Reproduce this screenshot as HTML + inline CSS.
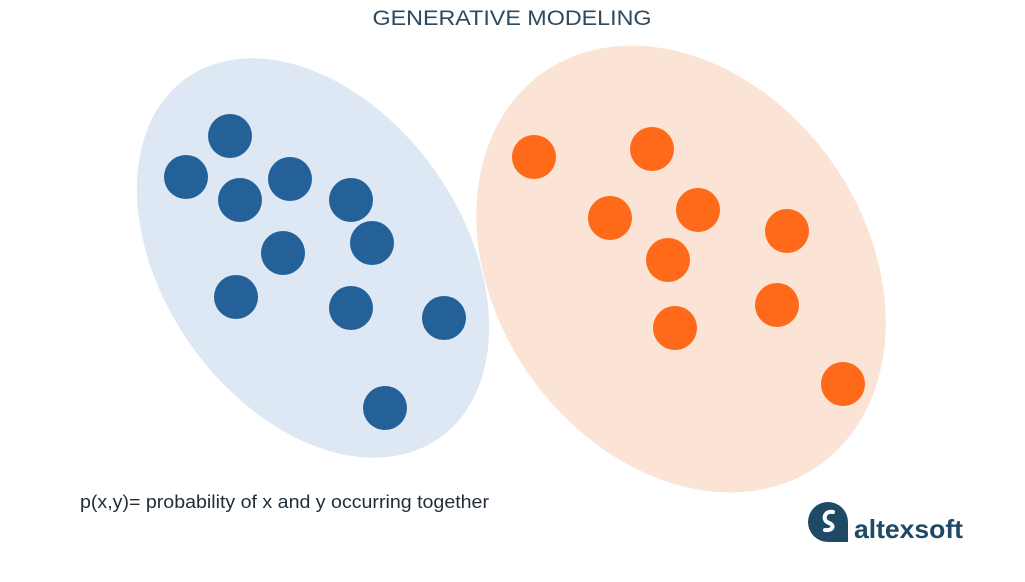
<!DOCTYPE html>
<html><head><style>
body{margin:0;background:#fff;width:1025px;height:577px;overflow:hidden;font-family:"Liberation Sans",sans-serif}
</style></head><body>
<svg width="1025" height="577" viewBox="0 0 1025 577">
<text x="512" y="25" text-anchor="middle" font-size="21" fill="#2d4a5e" font-family="Liberation Sans, sans-serif" textLength="279" lengthAdjust="spacingAndGlyphs">GENERATIVE MODELING</text>
<ellipse cx="313" cy="258" rx="150" ry="220" transform="rotate(-35 313 258)" fill="#dde8f4"/>
<ellipse cx="681" cy="269" rx="185" ry="240" transform="rotate(-35 681 269)" fill="#fbe3d5"/>
<g fill="#246199">
<circle cx="230" cy="136" r="22"/><circle cx="186" cy="177" r="22"/><circle cx="240" cy="200" r="22"/>
<circle cx="290" cy="179" r="22"/><circle cx="351" cy="200" r="22"/><circle cx="372" cy="243" r="22"/>
<circle cx="283" cy="253" r="22"/><circle cx="236" cy="297" r="22"/><circle cx="351" cy="308" r="22"/>
<circle cx="444" cy="318" r="22"/><circle cx="385" cy="408" r="22"/>
</g>
<g fill="#ff6a1a">
<circle cx="534" cy="157" r="22"/><circle cx="652" cy="149" r="22"/><circle cx="610" cy="218" r="22"/>
<circle cx="698" cy="210" r="22"/><circle cx="787" cy="231" r="22"/><circle cx="668" cy="260" r="22"/>
<circle cx="777" cy="305" r="22"/><circle cx="675" cy="328" r="22"/><circle cx="843" cy="384" r="22"/>
</g>
<text x="80" y="508" font-size="18" fill="#1f2d3a" font-family="Liberation Sans, sans-serif" textLength="409" lengthAdjust="spacingAndGlyphs">p(x,y)= probability of x and y occurring together</text>
<path d="M828 502 a20 20 0 1 0 0 40 h20 v-20 a20 20 0 0 0 -20 -20z" fill="#1f4a66"/>
<path d="M833 512 c-8 -2 -12 8 -4 11 c6 2 4 8 -4 7" stroke="#fff" stroke-width="4" fill="none" stroke-linecap="round"/>
<text x="854" y="538" font-size="26" font-weight="bold" fill="#1f4a66" font-family="Liberation Sans, sans-serif" textLength="109" lengthAdjust="spacingAndGlyphs">altexsoft</text>
</svg>
</body></html>
